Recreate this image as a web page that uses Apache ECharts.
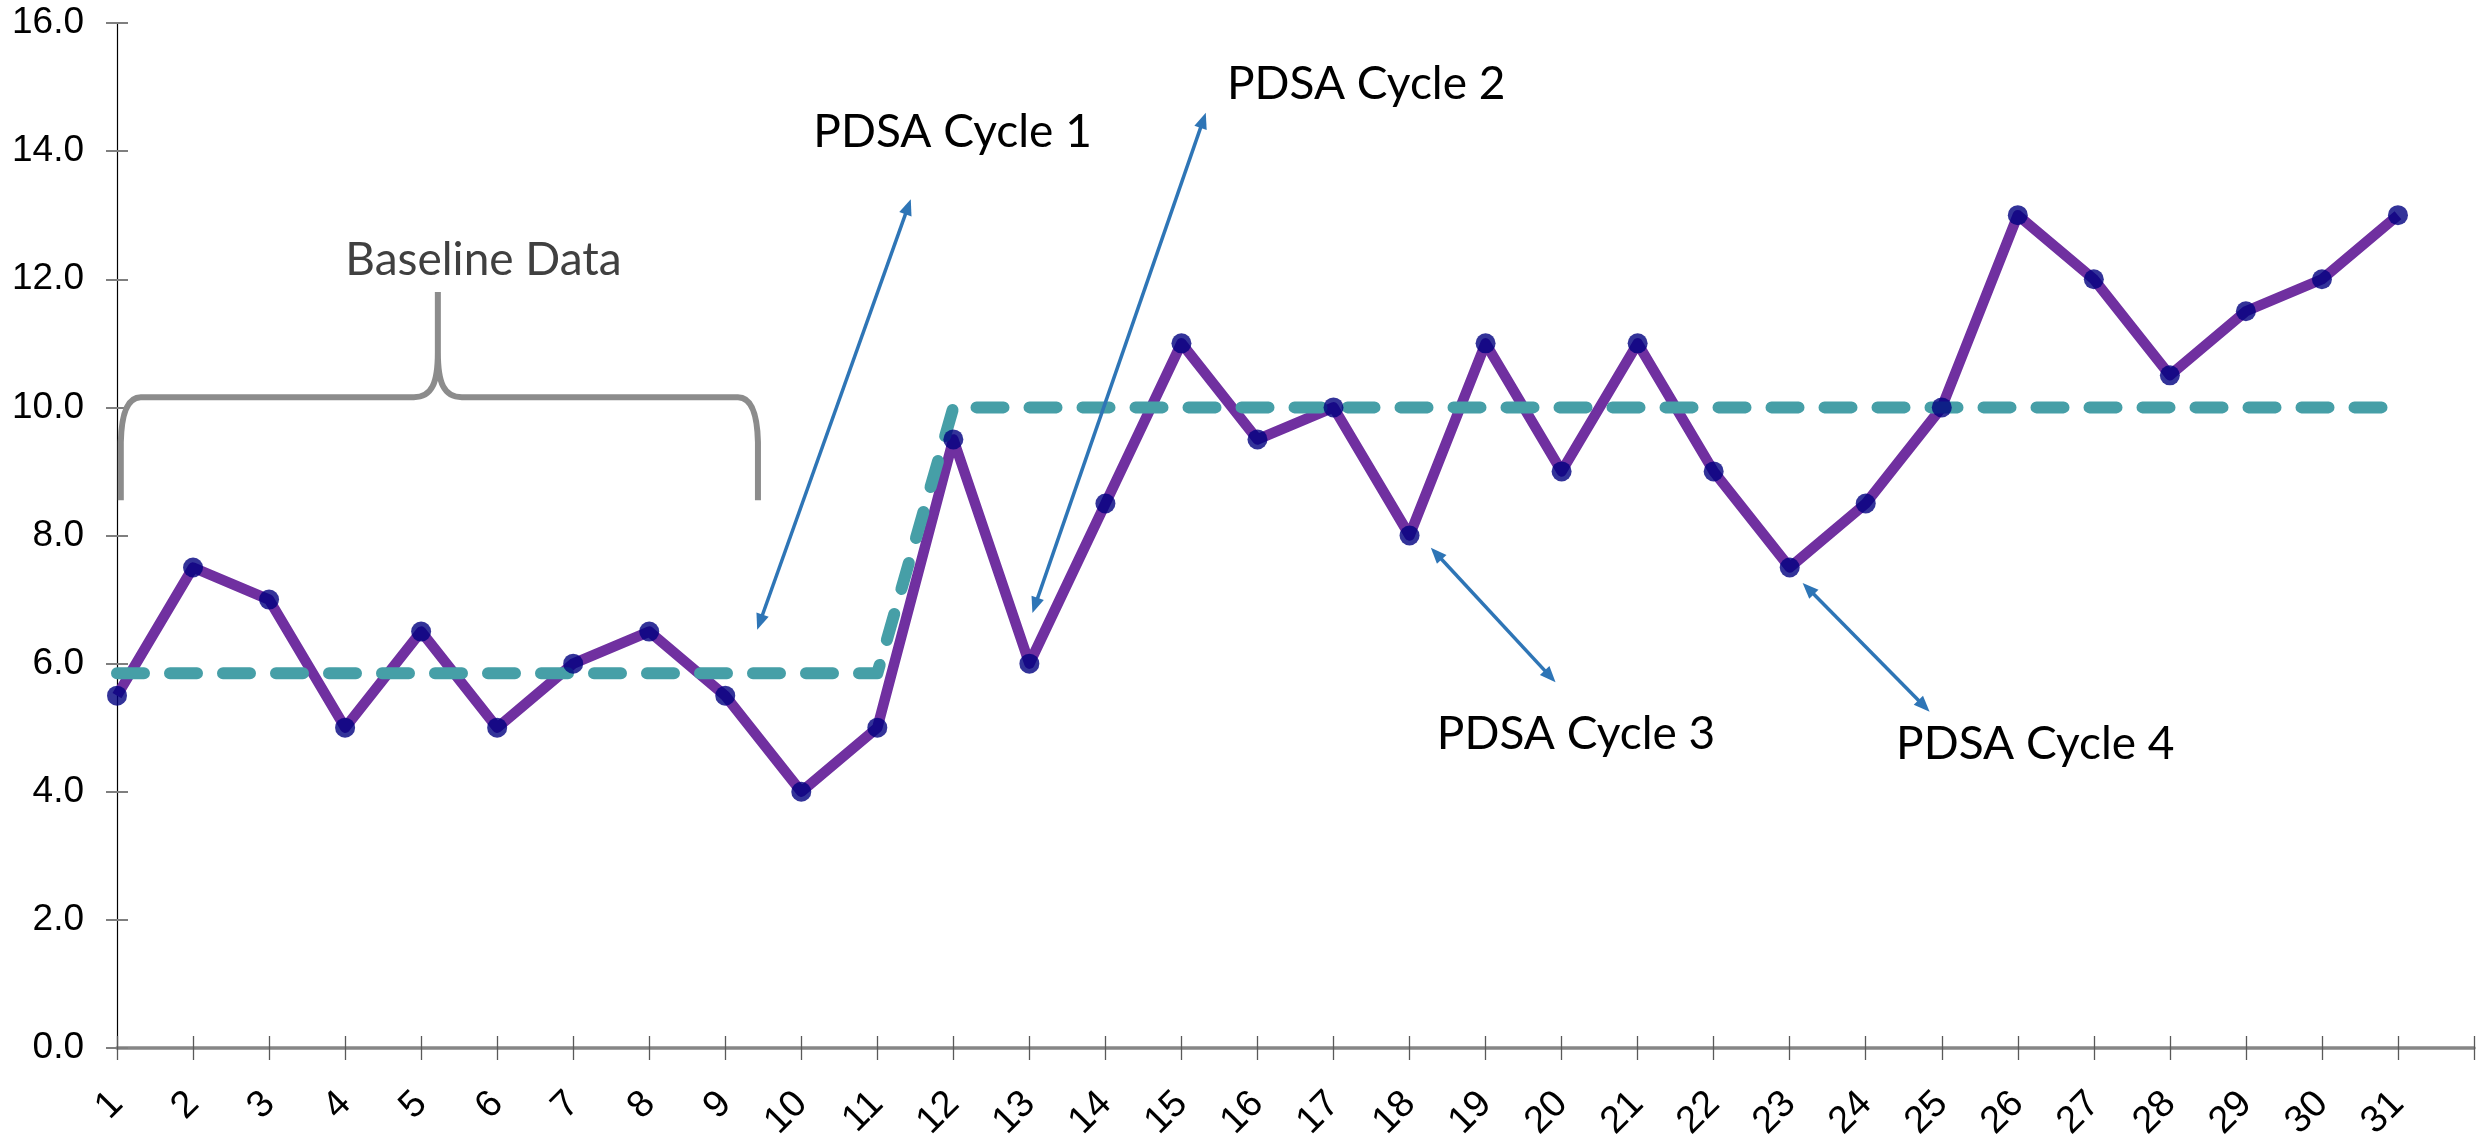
<!DOCTYPE html>
<html>
<head>
<meta charset="utf-8">
<title>Run chart</title>
<script src="https://cdn.jsdelivr.net/npm/echarts@6/dist/echarts.min.js"></script>
<style>
  html, body { margin: 0; padding: 0; background: #fff; }
  #chart { width: 2486px; height: 1136px; }
</style>
</head>
<body>
<div id="chart"></div>
<script>
// sample numbers on the x axis (one empty slot after 31)
const xLabels = ["1","2","3","4","5","6","7","8","9","10","11","12","13","14","15","16",
  "17","18","19","20","21","22","23","24","25","26","27","28","29","30","31"];
const samples = [1,2,3,4,5,6,7,8,9,10,11,12,13,14,15,16,17,18,19,20,21,22,23,24,25,26,27,28,29,30,31];
const values = [5.5,7.5,7.0,5.0,6.5,5.0,6.0,6.5,5.5,4.0,5.0,9.5,6.0,8.5,11.0,9.5,
  10.0,8.0,11.0,9.0,11.0,9.0,7.5,8.5,10.0,13.0,12.0,10.5,11.5,12.0,13.0];

// median: baseline up to 11, shifted median from 12 on
const medianX = [1, 11, 12, 31];
const medianY = [5.85, 5.85, 10.0, 10.0];

// annotations, in data units (x = sample, y = value)
const arrows = [
  [[11.44, 13.25], [9.42, 6.53]],
  [[15.32, 14.60], [13.04, 6.79]],
  [[18.28, 7.81], [19.92, 5.71]],
  [[23.17, 7.26], [24.84, 5.25]]
];
const notes = [
  { text: "PDSA Cycle 1", at: [11.99, 14.30] },
  { text: "PDSA Cycle 2", at: [17.43, 15.05] },
  { text: "PDSA Cycle 3", at: [20.19, 4.90] },
  { text: "PDSA Cycle 4", at: [26.23, 4.75] }
];
const bracket = { left: 1.05, right: 9.43, peak: 5.22, bottom: 8.55, level: 10.16, top: 11.8 };
const bracketLabel = { text: "Baseline Data", at: [5.82, 12.30] };

const chart = echarts.init(document.getElementById("chart"));

const zip = (a, b) => a.map((v, i) => [v, b[i]]);

// arrow with a head at both ends
function arrowShapes(p1, p2) {
  const dx = p2[0] - p1[0], dy = p2[1] - p1[1];
  const len = Math.sqrt(dx * dx + dy * dy);
  const ux = dx / len, uy = dy / len;
  const nx = -uy, ny = ux;
  const hl = 16, hw = 6.5;
  const head = (tip, sx, sy) => [
    tip,
    [tip[0] + sx * hl + nx * hw, tip[1] + sy * hl + ny * hw],
    [tip[0] + sx * hl - nx * hw, tip[1] + sy * hl - ny * hw]
  ];
  const style = { fill: "#2e75b6" };
  return [
    {
      type: "line",
      shape: { x1: p1[0] + ux * 10, y1: p1[1] + uy * 10, x2: p2[0] - ux * 10, y2: p2[1] - uy * 10 },
      style: { stroke: "#2e75b6", lineWidth: 3.5 }
    },
    { type: "polygon", shape: { points: head(p1, ux, uy) }, style },
    { type: "polygon", shape: { points: head(p2, -ux, -uy) }, style }
  ];
}

function renderNotes(params, api) {
  const children = [];
  arrows.forEach(([a, b]) => {
    children.push(...arrowShapes(api.coord(a), api.coord(b)));
  });

  // curly bracket over the baseline points
  const bl = api.coord([bracket.left, bracket.bottom]);
  const br = api.coord([bracket.right, bracket.bottom]);
  const pk = api.coord([bracket.peak, bracket.top]);
  const yh = api.coord([bracket.left, bracket.level])[1];
  const d = [
    "M", bl[0], bl[1],
    "L", bl[0], yh + 45,
    "Q", bl[0] + 1, yh, bl[0] + 20, yh,
    "L", pk[0] - 24, yh,
    "C", pk[0] - 6, yh, pk[0], yh - 14, pk[0], yh - 45,
    "L", pk[0], pk[1],
    "M", pk[0], yh - 45,
    "C", pk[0], yh - 14, pk[0] + 6, yh, pk[0] + 24, yh,
    "L", br[0] - 20, yh,
    "Q", br[0] - 1, yh, br[0], yh + 45,
    "L", br[0], br[1]
  ].join(" ");
  children.push({
    type: "path",
    shape: { pathData: d },
    style: { stroke: "#8c8c8c", lineWidth: 6, fill: null, lineJoin: "round", lineCap: "butt" }
  });

  const label = (t, at, color) => {
    const p = api.coord(at);
    return {
      type: "text",
      x: p[0],
      y: p[1],
      style: { text: t, font: "46px Lato", fill: color, align: "center", verticalAlign: "middle" }
    };
  };
  notes.forEach((n) => children.push(label(n.text, n.at, "#000")));
  children.push(label(bracketLabel.text, bracketLabel.at, "#404040"));

  return { type: "group", children };
}

const yAxisBase = { type: "value", min: 0, max: 16, interval: 2, position: "left", splitLine: { show: false } };
const xAxisBase = { type: "value", min: 1, max: 32, interval: 1, position: "bottom", splitLine: { show: false } };

chart.setOption({
  animation: false,
  backgroundColor: "#fff",
  grid: { left: 117, right: 12, top: 23, bottom: 88, containLabel: false, outerBoundsMode: "none" },
  xAxis: [
    {
      ...xAxisBase,
      axisLine: { show: true, lineStyle: { color: "#868686", width: 3.5 } },
      axisTick: { show: true, length: 12, lineStyle: { color: "#595959", width: 1.3 } },
      axisLabel: {
        rotate: 45,
        margin: 50,
        fontSize: 38,
        fontFamily: "Liberation Sans",
        color: "#000",
        formatter: (v) => xLabels[v - 1] || ""
      }
    },
    {
      ...xAxisBase,
      axisLine: { show: false },
      axisTick: { show: true, inside: true, length: 12, lineStyle: { color: "#595959", width: 1.3 } },
      axisLabel: { show: false }
    }
  ],
  yAxis: [
    {
      ...yAxisBase,
      axisLine: { show: true, lineStyle: { color: "#000", width: 1.2 } },
      axisTick: { show: true, length: 11, lineStyle: { color: "#7f7f7f", width: 2 } },
      axisLabel: {
        margin: 33,
        fontSize: 37,
        fontFamily: "Liberation Sans",
        color: "#000",
        formatter: (v) => v.toFixed(1)
      }
    },
    {
      ...yAxisBase,
      axisLine: { show: false },
      axisTick: { show: true, inside: true, length: 11, lineStyle: { color: "#7f7f7f", width: 2 } },
      axisLabel: { show: false }
    }
  ],
  series: [
    {
      name: "Data",
      type: "line",
      z: 2,
      data: zip(samples, values),
      showSymbol: false,
      lineStyle: { color: "#7030a0", width: 10.5, join: "round" }
    },
    {
      name: "Median",
      type: "line",
      z: 3,
      data: zip(medianX, medianY),
      showSymbol: false,
      lineStyle: { color: "#469fa7", width: 12, type: [27, 26], cap: "round", join: "round" }
    },
    {
      name: "Points",
      type: "scatter",
      z: 4,
      data: zip(samples, values),
      symbol: "circle",
      symbolSize: 20,
      itemStyle: { color: "#000080" }
    },
    {
      name: "Notes",
      type: "custom",
      z: 5,
      silent: true,
      data: [[1, 0]],
      renderItem: renderNotes
    }
  ]
});
</script>
</body>
</html>
